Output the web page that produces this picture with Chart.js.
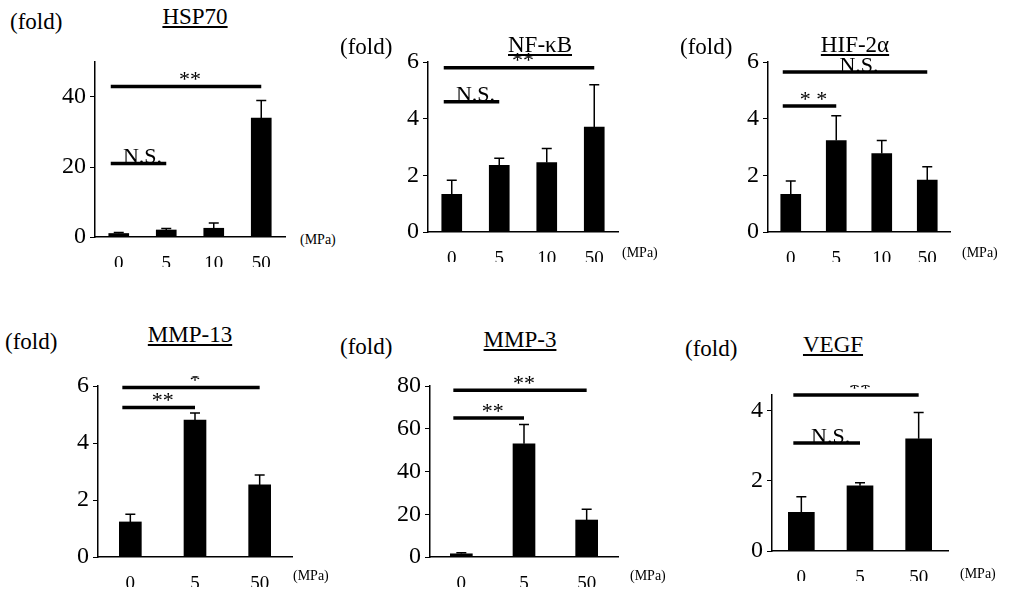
<!DOCTYPE html>
<html><head><meta charset="utf-8">
<script src="https://cdn.jsdelivr.net/npm/chart.js@4/dist/chart.umd.min.js"></script>
<style>
body{margin:0;width:1024px;height:590px;background:#fff;position:relative;overflow:hidden;font-family:"Liberation Serif",serif}
canvas{position:absolute}
.t{position:absolute;font-size:23px;color:#000;white-space:nowrap}
.ti{text-decoration:underline;transform:translateX(-50%)}
.m{position:absolute;font-size:14px;white-space:nowrap}
</style></head><body>
<script>
// ---- data ----
const hspCats=['0','5','10','50'], hspVals=[1,2,2.5,34], hspErr=[0.3,0.4,1.5,5];
const nfCats=['0','5','10','50'], nfVals=[1.33,2.35,2.45,3.7], nfErr=[0.5,0.25,0.5,1.5];
const hifCats=['0','5','10','50'], hifVals=[1.33,3.23,2.77,1.83], hifErr=[0.47,0.87,0.46,0.47];
const m13Cats=['0','5','50'], m13Vals=[1.23,4.8,2.53], m13Err=[0.27,0.25,0.35];
const m3Cats=['0','5','50'], m3Vals=[1.5,53,17.3], m3Err=[0.5,9,5];
const vegfCats=['0','5','50'], vegfVals=[1.1,1.86,3.2], vegfErr=[0.45,0.09,0.75];
const hspTicks=[0,20,40], nfTicks=[0,2,4,6], hifTicks=[0,2,4,6], m13Ticks=[0,2,4,6], m3Ticks=[0,20,40,60,80], vegfTicks=[0,2,4];
const hspSig=[[0,3,43,'**'],[0,1,21,'N.S.']];
const nfSig=[[0,3,5.8,'**'],[0,1,4.6,'N.S.']];
const hifSig=[[0,3,5.65,'N.S.'],[0,1,4.45,'* *']];
const m13Sig=[[0,2,5.95,'*'],[0,1,5.25,'**']];
const m3Sig=[[0,2,78,'**'],[0,1,65,'**']];
const vegfSig=[[0,2,4.45,'**'],[0,1,3.08,'N.S.']];

const panels=[
 {title:'HSP70',cats:hspCats,vals:hspVals,err:hspErr,sig:hspSig,ticks:hspTicks,max:50,a:[95,62,285,237],bw:20,tt:[195,4],fold:[10,9],mpa:[300,232]},
 {title:'NF-κB',cats:nfCats,vals:nfVals,err:nfErr,sig:nfSig,ticks:nfTicks,max:6,a:[428,62,618,232],bw:20,tt:[540,32],fold:[340,34],mpa:[622,245]},
 {title:'HIF-2α',cats:hifCats,vals:hifVals,err:hifErr,sig:hifSig,ticks:hifTicks,max:6,a:[768,62,950,232],bw:20,tt:[855,32],fold:[680,34],mpa:[962,245]},
 {title:'MMP-13',cats:m13Cats,vals:m13Vals,err:m13Err,sig:m13Sig,ticks:m13Ticks,max:6,a:[98,386,292,557],bw:22,tt:[190,322],fold:[5,329],mpa:[293,568]},
 {title:'MMP-3',cats:m3Cats,vals:m3Vals,err:m3Err,sig:m3Sig,ticks:m3Ticks,max:80,a:[430,386,618,557],bw:22,tt:[520,327],fold:[340,334],mpa:[630,568]},
 {title:'VEGF',cats:vegfCats,vals:vegfVals,err:vegfErr,sig:vegfSig,ticks:vegfTicks,max:4.45,a:[772,395,948,551],bw:26,tt:[833,332],fold:[685,336],mpa:[960,566]}
];

const extras={id:'extras',afterDatasetsDraw(c,_,o){
  const p=c.options.plugins.extras, ctx=c.ctx, x=c.scales.x, y=c.scales.y;
  ctx.save();ctx.strokeStyle='#000';ctx.fillStyle='#000';
  p.vals.forEach((v,i)=>{const cx=x.getPixelForValue(i),y0=y.getPixelForValue(v),y1=y.getPixelForValue(v+p.err[i]);
    ctx.lineWidth=1.5;ctx.beginPath();ctx.moveTo(cx,y0);ctx.lineTo(cx,y1);ctx.moveTo(cx-5,y1);ctx.lineTo(cx+5,y1);ctx.stroke();});
  p.sig.forEach(s=>{const xa=x.getPixelForValue(s[0]),xb=x.getPixelForValue(s[1]),yy=y.getPixelForValue(s[2]);
    ctx.lineWidth=3.5;ctx.beginPath();ctx.moveTo(xa-8,yy);ctx.lineTo(xb,yy);ctx.stroke();
    ctx.font='22px "Liberation Serif"';ctx.textAlign='center';ctx.textBaseline='bottom';
    ctx.fillText(s[3],(xa+xb)/2,yy+5);});
  ctx.restore();}};

panels.forEach(p=>{
  const [l,t,r,b]=p.a;
  const cv=document.createElement('canvas');
  const W=r-l+70,H=b-t+40;
  cv.width=W;cv.height=H;cv.style.left=(l-60)+'px';cv.style.top=(t-10)+'px';cv.style.width=W+'px';cv.style.height=H+'px';
  document.body.appendChild(cv);
  new Chart(cv,{type:'bar',
    data:{labels:p.cats,datasets:[{data:p.vals,backgroundColor:'#000',barThickness:p.bw}]},
    plugins:[extras],
    options:{responsive:false,animation:false,devicePixelRatio:1,
      layout:{padding:{left:10,top:10,right:10,bottom:0}},
      plugins:{legend:{display:false},tooltip:{enabled:false},extras:{vals:p.vals,err:p.err,sig:p.sig}},
      scales:{
        x:{grid:{display:false},border:{color:'#000',width:1.5},
          ticks:{color:'#000',font:{family:'Liberation Serif',size:19},padding:8},
          afterFit(s){s.height=30;}},
        y:{min:0,max:p.max,grid:{display:true,drawOnChartArea:false,tickLength:5,color:'#000'},border:{color:'#000',width:1.5},
          ticks:{color:'#000',font:{family:'Liberation Serif',size:24},padding:4},
          afterBuildTicks(s){s.ticks=p.ticks.map(v=>({value:v}));},
          afterFit(s){s.width=50;s.paddingTop=0;}}
      }}});
  const ti=document.createElement('div');ti.className='t ti';ti.textContent=p.title;ti.style.left=p.tt[0]+'px';ti.style.top=p.tt[1]+'px';document.body.appendChild(ti);
  const f=document.createElement('div');f.className='t';f.textContent='(fold)';f.style.left=p.fold[0]+'px';f.style.top=p.fold[1]+'px';document.body.appendChild(f);
  const m=document.createElement('div');m.className='m';m.textContent='(MPa)';m.style.left=p.mpa[0]+'px';m.style.top=p.mpa[1]+'px';document.body.appendChild(m);
});
</script>
</body></html>
